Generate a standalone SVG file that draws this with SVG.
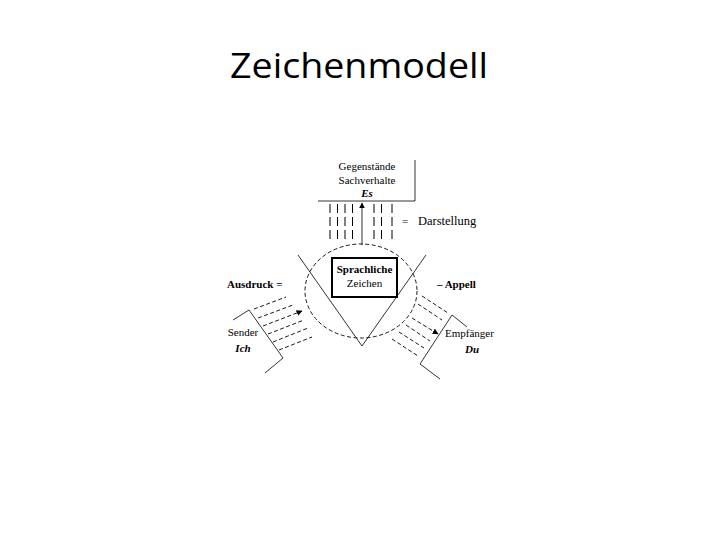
<svg xmlns="http://www.w3.org/2000/svg" width="720" height="540" viewBox="0 0 720 540">
<style>
.t{font-family:"Liberation Serif","Times New Roman",serif;font-size:11px;fill:#000}
.b{font-weight:bold}
.i{font-style:italic;font-weight:bold}
.ln{stroke:#000;stroke-width:0.8;fill:none}
.d{stroke:#000;stroke-width:0.9;fill:none;stroke-dasharray:4 2.5}
.dv{stroke:#000;stroke-width:1;fill:none;stroke-dasharray:9 4}
.title{font-family:"Open Sans","Noto Sans","Liberation Sans",sans-serif;font-size:35px;fill:#000}
</style>
<defs>
<marker id="ah" viewBox="0 0 10 10" refX="9" refY="5" markerWidth="6" markerHeight="6" orient="auto" markerUnits="userSpaceOnUse">
<path d="M0,0 L10,5 L0,10 z" fill="#000"/>
</marker>
</defs>
<rect width="720" height="540" fill="#fff"/>
<text class="title" x="359" y="78" text-anchor="middle" textLength="258" lengthAdjust="spacingAndGlyphs">Zeichenmodell</text>

<g id="gegenstaende">
<path class="ln" d="M318,201 H415 V160" stroke-width="1"/>
<text class="t" x="367" y="170" text-anchor="middle">Gegenstände</text>
<text class="t" x="367" y="184" text-anchor="middle">Sachverhalte</text>
<text class="t i" x="367" y="197" text-anchor="middle">Es</text>
</g>

<g id="zeichen">
<ellipse class="d" cx="361" cy="291" rx="56" ry="47" stroke-dasharray="4 3"/>
<rect x="332" y="258" width="65" height="39" fill="none" stroke="#000" stroke-width="2"/>
<text class="t b" x="364.5" y="273" text-anchor="middle">Sprachliche</text>
<text class="t" x="364.5" y="287" text-anchor="middle">Zeichen</text>
<path class="ln" d="M298,255 L362,346 L426,255"/>
</g>

<g id="sender">
<path class="ln" d="M233,320 L249,310 L283,358 L265,373"/>
<text class="t" x="243" y="336" text-anchor="middle">Sender</text>
<text class="t i" x="243" y="352" text-anchor="middle">Ich</text>
</g>

<g id="empfaenger">
<path class="ln" d="M467,327 L452,315 L420,364 L440,379"/>
<text class="t" x="445" y="337">Empfänger</text>
<text class="t i" x="472" y="353" text-anchor="middle">Du</text>
</g>

<g id="labels">
<text class="t" x="402" y="225">=</text>
<text class="t" x="418" y="225" style="font-size:12.5px">Darstellung</text>
<text class="t b" x="227" y="288">Ausdruck =</text>
<text class="t b" x="437" y="288">– Appell</text>
</g>

<g id="connectors">
<path class="dv" d="M330,204 V243 M337.5,204 V243 M345,204 V243 M352.5,204 V243 M374,204 V243 M381.5,204 V243 M392,204 V243"/>
<line class="ln" x1="362" y1="245" x2="362" y2="203" stroke-width="1" marker-end="url(#ah)"/>
<path class="d" d="M254,309 L286,297 M258,318 L293,305 M268,334 L304,320 M273,342 L308,328 M279,350 L312,337"/>
<line class="d" x1="263" y1="326" x2="302" y2="311" marker-end="url(#ah)"/>
<path class="d" d="M422,296 L448,313 M418,304 L442,320 M406,325 L430,341 M399,332 L424,348 M392,339 L418,356"/>
<line class="d" x1="412" y1="318" x2="438" y2="334" marker-end="url(#ah)"/>
</g>
</svg>
